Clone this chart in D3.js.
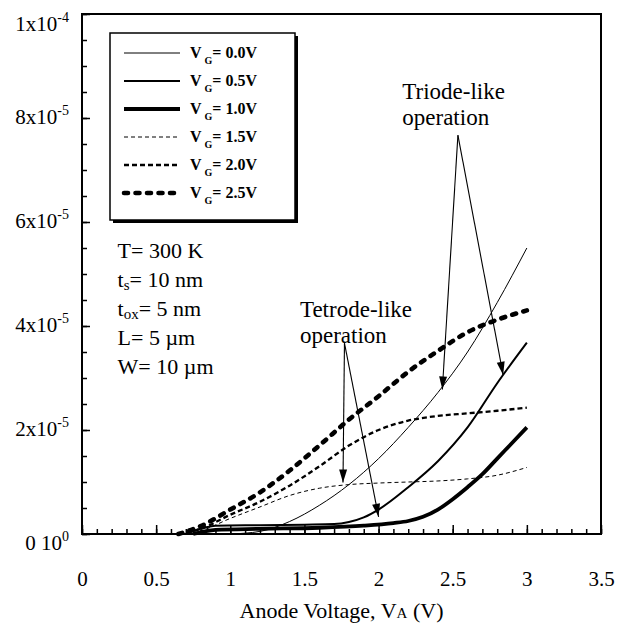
<!DOCTYPE html>
<html><head><meta charset="utf-8">
<script src="https://cdn.jsdelivr.net/npm/d3@7"></script>
<style>
html,body{margin:0;padding:0;background:#fff;}
svg{display:block;}
</style></head>
<body>
<svg id="chart" width="617" height="632" font-family="Liberation Serif"></svg>
<script>
// ---------- data (current in units of 1e-5 A) ----------
const vgLabels = ["0.0V","0.5V","1.0V","1.5V","2.0V","2.5V"];
const vg00 = [[1.0,0],[1.2,0.05],[1.4,0.24],[1.6,0.55],[1.8,0.95],[2.0,1.45],[2.2,2.05],[2.4,2.72],[2.6,3.5],[2.8,4.45],[3.0,5.5]];
const vg05 = [[0.7,0],[0.8,0.1],[0.9,0.16],[1.2,0.17],[1.5,0.18],[1.7,0.19],[1.8,0.23],[1.9,0.32],[2.0,0.47],[2.2,0.9],[2.4,1.4],[2.6,2.05],[2.8,2.9],[3.0,3.68]];
const vg10 = [[0.75,0],[0.9,0.08],[1.2,0.1],[1.6,0.12],[1.9,0.16],[2.1,0.21],[2.2,0.25],[2.3,0.33],[2.4,0.47],[2.5,0.67],[2.6,0.9],[2.7,1.15],[2.8,1.45],[2.9,1.75],[3.0,2.05]];
const vg15 = [[0.7,0],[0.8,0.06],[1.0,0.3],[1.2,0.52],[1.4,0.74],[1.6,0.88],[1.8,0.95],[2.0,0.98],[2.2,1.0],[2.4,1.02],[2.6,1.06],[2.8,1.13],[3.0,1.28]];
const vg20 = [[0.65,0],[0.8,0.1],[1.0,0.37],[1.2,0.62],[1.4,0.93],[1.6,1.3],[1.8,1.7],[2.0,2.0],[2.2,2.18],[2.4,2.27],[2.6,2.32],[2.8,2.37],[3.0,2.43]];
const vg25 = [[0.65,0],[0.8,0.15],[1.0,0.47],[1.2,0.8],[1.4,1.22],[1.6,1.7],[1.8,2.2],[2.0,2.65],[2.2,3.12],[2.4,3.52],[2.6,3.88],[2.8,4.12],[3.0,4.3]];

const xTickValues = [0,0.5,1,1.5,2,2.5,3,3.5];
const xTickLabels = ["0","0.5","1","1.5","2","2.5","3","3.5"];
const yTickValues = [0,2,4,6,8,10];
const yTickMantissa = ["0 10","2x10","4x10","6x10","8x10","1x10"];
const yTickExponent = ["0","-5","-5","-5","-5","-4"];

const paramLines = [
  {main:"T", sub:"", rest:"= 300 K"},
  {main:"t", sub:"s", rest:"= 10 nm"},
  {main:"t", sub:"ox", rest:"= 5 nm"},
  {main:"L", sub:"", rest:"= 5 \u00b5m"},
  {main:"W", sub:"", rest:"= 10 \u00b5m"}
];
const paramAnchor = [0.24, 5.3];        // V, I of first line
const triodeText = ["Triode-like","operation"];
const triodeAnchor = [2.16, 8.37];
const tetrodeText = ["Tetrode-like","operation"];
const tetrodeAnchor = [1.47, 4.17];
const triodeArrows = [[[2.535,7.67],[2.43,2.78]],[[2.535,7.67],[2.84,3.06]]];
const tetrodeArrows = [[[1.77,3.67],[1.76,0.99]],[[1.77,3.67],[2.0,0.33]]];

// ---------- styles ----------
const seriesList = [vg00, vg05, vg10, vg15, vg20, vg25];
const styles = [
  {w:1,   dash:null,     cap:"butt"},
  {w:2,   dash:null,     cap:"butt"},
  {w:3.8, dash:null,     cap:"butt"},
  {w:1,   dash:"4,3",    cap:"butt"},
  {w:2.3, dash:"5,3",    cap:"butt"},
  {w:4.6, dash:"4,7.5",  cap:"round"}
];
const FONT = "Liberation Serif";

const svg = d3.select("#chart");
const L = 82, R = 601, T = 14, B = 534;
const x = d3.scaleLinear().domain([0,3.5]).range([L,R]);
const y = d3.scaleLinear().domain([0,10]).range([B,T]);

// axes ticks (inward)
const minorX = d3.range(0,3.5001,0.1).map(v=>+v.toFixed(2));
const minorY = d3.range(0,10.001,0.5).map(v=>+v.toFixed(2));

svg.append("g").attr("transform",`translate(0,${B})`)
  .call(d3.axisBottom(x).tickValues(minorX).tickSize(-5).tickFormat(""))
  .call(g=>g.select(".domain").remove())
  .call(g=>g.selectAll("line").attr("stroke-width",1.5));
svg.append("g").attr("transform",`translate(0,${B})`)
  .call(d3.axisBottom(x).tickValues(xTickValues).tickSize(-9).tickPadding(37).tickFormat((d,i)=>xTickLabels[i]))
  .attr("font-family",FONT)
  .call(g=>g.select(".domain").remove())
  .call(g=>g.selectAll("line").attr("stroke-width",1.5))
  .call(g=>g.selectAll("text").attr("font-size",21).attr("font-family",FONT).attr("fill","#000"));

svg.append("g").attr("transform",`translate(${L},0)`)
  .call(d3.axisLeft(y).tickValues(minorY).tickSize(-5).tickFormat(""))
  .call(g=>g.select(".domain").remove())
  .call(g=>g.selectAll("line").attr("stroke-width",1.5));
svg.append("g").attr("transform",`translate(${L},0)`)
  .call(d3.axisLeft(y).tickValues(yTickValues).tickSize(-8).tickFormat(""))
  .call(g=>g.select(".domain").remove())
  .call(g=>g.selectAll("line").attr("stroke-width",1.5));

// y tick labels with superscripts
yTickValues.forEach((v,i)=>{
  const dy = i===0 ? 16 : (i===yTickValues.length-1 ? 17 : 6);
  const t = svg.append("text").attr("x",69).attr("y",y(v)+dy)
    .attr("text-anchor","end").attr("font-size",21).attr("font-family",FONT);
  t.append("tspan").text(yTickMantissa[i]);
  t.append("tspan").attr("dy",-9).attr("font-size",14).text(yTickExponent[i]);
});

// frame
svg.append("rect").attr("x",L).attr("y",T).attr("width",R-L).attr("height",B-T)
  .attr("fill","none").attr("stroke","#000").attr("stroke-width",2);

// curves
const line = d3.line().x(d=>x(d[0])).y(d=>y(d[1])).curve(d3.curveMonotoneX);
seriesList.forEach((s,i)=>{
  svg.append("path").datum(s).attr("d",line)
    .attr("fill","none").attr("stroke","#000")
    .attr("stroke-width",styles[i].w)
    .attr("stroke-dasharray",styles[i].dash)
    .attr("stroke-linecap", styles[i].cap);
});

// arrows
const defs = svg.append("defs");
defs.append("marker").attr("id","ah").attr("viewBox","-14 -5 15 10")
  .attr("refX",0).attr("refY",0).attr("markerWidth",15).attr("markerHeight",10)
  .attr("markerUnits","userSpaceOnUse").attr("orient","auto")
  .append("path").attr("d","M0,0 L-13,-4 L-13,4 Z").attr("fill","#000");
[...triodeArrows, ...tetrodeArrows].forEach(a=>{
  svg.append("line")
    .attr("x1",x(a[0][0])).attr("y1",y(a[0][1]))
    .attr("x2",x(a[1][0])).attr("y2",y(a[1][1]))
    .attr("stroke","#000").attr("stroke-width",1.1)
    .attr("marker-end","url(#ah)");
});

// annotation texts
function twoLine(lines, anchor){
  lines.forEach((s,i)=>{
    svg.append("text").attr("x",x(anchor[0])).attr("y",y(anchor[1])+i*26)
      .attr("font-size",23).attr("font-family",FONT).attr("fill","#000").text(s);
  });
}
twoLine(triodeText, triodeAnchor);
twoLine(tetrodeText, tetrodeAnchor);

paramLines.forEach((p,i)=>{
  const t = svg.append("text").attr("x",x(paramAnchor[0])).attr("y",y(paramAnchor[1])+i*29)
    .attr("font-size",22).attr("font-family",FONT).attr("fill","#000");
  t.append("tspan").text(p.main);
  if(p.sub){
    t.append("tspan").attr("dy",3).attr("font-size",15).text(p.sub);
    t.append("tspan").attr("dy",-3).text(p.rest);
  } else {
    t.append("tspan").text(p.rest);
  }
});

// legend
const lg = svg.append("g");
lg.append("rect").attr("x",113).attr("y",36).attr("width",185).attr("height",187).attr("fill","#000");
lg.append("rect").attr("x",110).attr("y",33).attr("width",185).attr("height",187)
  .attr("fill","#fff").attr("stroke","#000").attr("stroke-width",1.5);
vgLabels.forEach((lab,i)=>{
  const yy = 53 + i*28;
  lg.append("line").attr("x1",124).attr("x2",180).attr("y1",yy).attr("y2",yy)
    .attr("stroke","#000").attr("stroke-width",styles[i].w)
    .attr("stroke-dasharray",styles[i].dash)
    .attr("stroke-linecap", styles[i].cap);
  const t = lg.append("text").attr("x",190).attr("y",yy+5).attr("font-size",16)
    .attr("font-weight","bold").attr("font-family",FONT).attr("fill","#000");
  t.append("tspan").text("V");
  t.append("tspan").attr("dx",3).attr("dy",6).attr("font-size",10).text("G");
  t.append("tspan").attr("dy",-6).text("= " + lab);
});

// x axis title
const xt = svg.append("text").attr("x",(L+R)/2).attr("y",618).attr("text-anchor","middle")
  .attr("font-size",22).attr("font-family",FONT).attr("fill","#000");
xt.append("tspan").text("Anode Voltage, V");
xt.append("tspan").attr("font-size",15).text("A");
xt.append("tspan").text(" (V)");
</script>
</body></html>
